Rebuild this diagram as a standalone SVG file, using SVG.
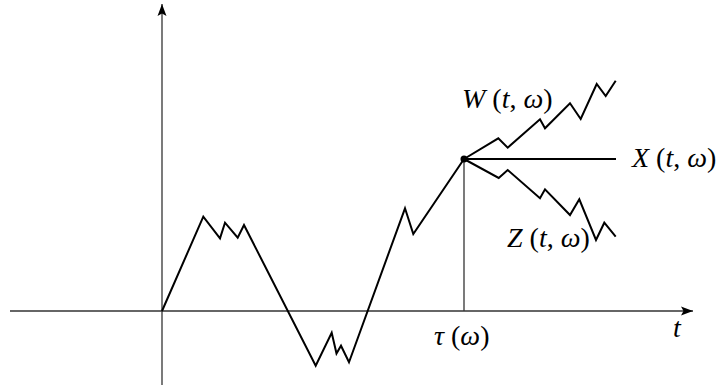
<svg xmlns="http://www.w3.org/2000/svg" width="719" height="387" viewBox="0 0 719 387">
<style>
.axis{stroke:#333;stroke-width:1.3;fill:none}
.path{stroke:#000;stroke-width:2;fill:none;stroke-linejoin:miter}
.lbl{font-family:"Liberation Serif","DejaVu Serif",serif;font-size:28px;fill:#000}
.it{font-style:italic}
</style>
<defs>
<marker id="arr" markerWidth="14" markerHeight="10" refX="12" refY="5" orient="auto" markerUnits="userSpaceOnUse">
<path d="M0,0.5 L12,5 L0,9.5 L2.5,5 Z" fill="#000"/>
</marker>
</defs>
<g id="connectors">
<line id="x-axis" class="axis" x1="10" y1="311" x2="693" y2="311" marker-end="url(#arr)"/>
<line id="y-axis" class="axis" x1="162" y1="385" x2="162" y2="4" marker-end="url(#arr)"/>
<line id="tau-line" class="axis" x1="464" y1="159" x2="464" y2="311"/>
<polyline id="main-path" class="path" points="162,311 203.3,216.7 220,238.3 225,222.7 237.7,237.7 244,225 315.7,365.7 331.7,332.7 336.5,353.5 341,345.7 349,362.3 405,208.3 413.3,234 464,159"/>
<polyline id="W-path" class="path" points="464,159 498.3,138.3 507.7,147.7 540,119.3 545,128.3 570,103.3 580.7,119 596.7,84 605.7,96 615.7,80.7"/>
<line id="X-path" class="path" x1="464" y1="159" x2="616" y2="159"/>
<polyline id="Z-path" class="path" points="464,159 498.7,178 507.7,170 540,198.3 545,189.3 570,215 579.3,199.3 596,240 604.3,222.7 615.7,236.7"/>
</g>
<g id="node-tau-point"><circle cx="464" cy="159" r="3.5" fill="#000"/></g>
<g id="label-W"><text class="lbl" x="462" y="108"><tspan class="it">W</tspan> (<tspan class="it">t</tspan>, <tspan class="it">ω</tspan>)</text></g>
<g id="label-X"><text class="lbl" x="632" y="167"><tspan class="it">X</tspan> (<tspan class="it">t</tspan>, <tspan class="it">ω</tspan>)</text></g>
<g id="label-Z"><text class="lbl" x="507" y="247"><tspan class="it">Z</tspan> (<tspan class="it">t</tspan>, <tspan class="it">ω</tspan>)</text></g>
<g id="label-tau"><text class="lbl" x="434" y="345"><tspan class="it">τ</tspan> (<tspan class="it">ω</tspan>)</text></g>
<g id="label-t"><text class="lbl it" x="673" y="337">t</text></g>
</svg>
